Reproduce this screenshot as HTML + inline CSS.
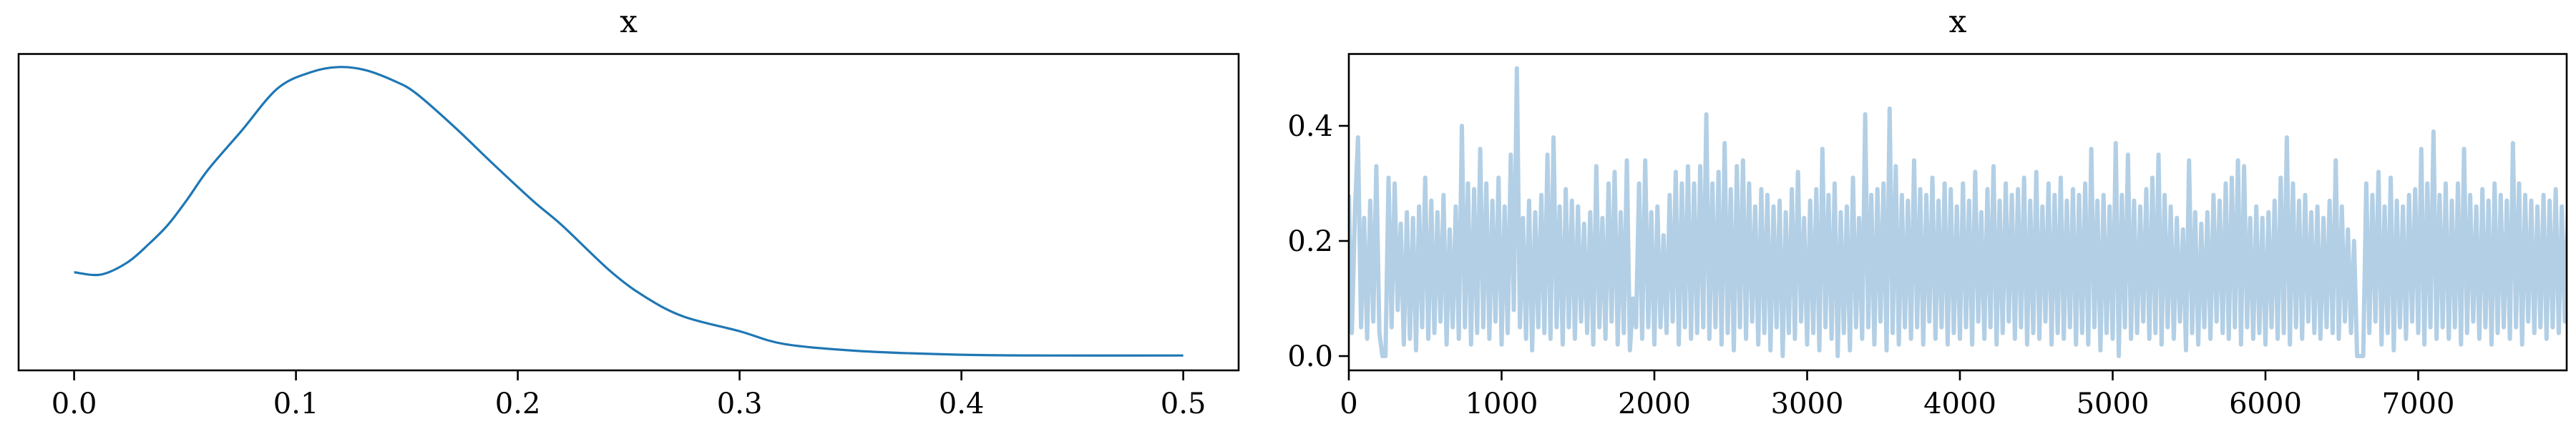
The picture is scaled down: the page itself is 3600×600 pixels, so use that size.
<!DOCTYPE html>
<html><head><meta charset="utf-8"><style>
html,body{margin:0;padding:0;background:#fff;}
svg{display:block;font-family:"DejaVu Serif","Liberation Serif",serif;}
</style></head><body>
<svg id="chart" width="3600" height="600" viewBox="0 0 3600 600" xmlns="http://www.w3.org/2000/svg">
<rect width="3600" height="600" fill="#fff"/>
<g id="kde"></g>
<g id="trace"></g>
</svg>
<script>
// KDE panel data
const kdeX = [0,0.012,0.024,0.034,0.0425,0.051,0.0605,0.0753,0.0917,0.1066,0.119,0.131,0.1443,0.154,0.171,0.189,0.207,0.22,0.242,0.258,0.275,0.3,0.32,0.353,0.398,0.439,0.5];
const kdeY = [1.45,1.41,1.62,1.95,2.28,2.71,3.23,3.89,4.63,4.91,5.0,4.95,4.76,4.55,3.98,3.32,2.68,2.26,1.46,1.01,0.68,0.43,0.21,0.09,0.025,0.01,0.01];
const kdeTicks = [0.0,0.1,0.2,0.3,0.4,0.5];
const kdeTickLabels = ["0.0","0.1","0.2","0.3","0.4","0.5"];
// Trace panel data (one value every 20 draws)
const traceStep = 20;
const traceVals = [
0.28,0.04,0.25,0.38,0.05,0.24,0.03,0.27,0.06,0.33,0.04,0.00,0.00,0.31,0.05,0.30,0.08,0.23,0.02,0.25,
0.03,0.24,0.01,0.26,0.05,0.31,0.03,0.27,0.04,0.25,0.06,0.28,0.02,0.22,0.05,0.26,0.03,0.40,0.05,0.30,
0.02,0.29,0.04,0.36,0.05,0.30,0.03,0.27,0.06,0.31,0.02,0.26,0.04,0.35,0.08,0.50,0.05,0.24,0.03,0.27,
0.01,0.25,0.05,0.28,0.04,0.35,0.03,0.38,0.05,0.26,0.02,0.29,0.05,0.27,0.03,0.26,0.06,0.23,0.04,0.25,
0.02,0.33,0.05,0.24,0.03,0.30,0.06,0.32,0.02,0.25,0.04,0.34,0.01,0.10,0.05,0.30,0.03,0.34,0.05,0.25,
0.02,0.26,0.05,0.21,0.04,0.28,0.06,0.32,0.02,0.30,0.05,0.33,0.03,0.30,0.04,0.33,0.05,0.42,0.03,0.30,
0.05,0.32,0.02,0.37,0.04,0.29,0.01,0.33,0.05,0.34,0.03,0.30,0.06,0.26,0.02,0.29,0.04,0.28,0.01,0.26,
0.05,0.27,0.00,0.25,0.04,0.29,0.03,0.32,0.06,0.24,0.02,0.27,0.04,0.29,0.01,0.36,0.05,0.28,0.03,0.30,
0.00,0.25,0.04,0.26,0.01,0.31,0.05,0.24,0.03,0.42,0.05,0.28,0.02,0.29,0.06,0.30,0.01,0.43,0.04,0.33,
0.02,0.28,0.05,0.27,0.03,0.34,0.05,0.29,0.02,0.28,0.06,0.31,0.03,0.27,0.05,0.30,0.02,0.29,0.04,0.26,
0.03,0.30,0.05,0.27,0.02,0.32,0.06,0.25,0.03,0.29,0.05,0.33,0.02,0.27,0.04,0.30,0.06,0.28,0.03,0.29,
0.05,0.31,0.02,0.27,0.04,0.32,0.03,0.26,0.06,0.30,0.02,0.28,0.04,0.31,0.03,0.27,0.05,0.29,0.02,0.28,
0.04,0.30,0.02,0.36,0.05,0.27,0.01,0.28,0.04,0.26,0.03,0.37,0.00,0.28,0.05,0.35,0.03,0.27,0.04,0.26,
0.06,0.29,0.03,0.31,0.04,0.35,0.02,0.28,0.05,0.26,0.03,0.24,0.06,0.22,0.01,0.34,0.04,0.25,0.02,0.23,
0.05,0.25,0.03,0.28,0.06,0.27,0.04,0.30,0.03,0.31,0.05,0.34,0.02,0.33,0.05,0.24,0.03,0.26,0.04,0.24,
0.02,0.25,0.05,0.27,0.03,0.31,0.04,0.38,0.02,0.30,0.05,0.27,0.03,0.28,0.06,0.25,0.04,0.26,0.03,0.24,
0.05,0.27,0.04,0.34,0.03,0.26,0.06,0.22,0.04,0.20,0.00,0.00,0.00,0.30,0.04,0.28,0.06,0.32,0.02,0.26,
0.04,0.31,0.01,0.27,0.05,0.26,0.03,0.28,0.06,0.29,0.04,0.36,0.02,0.30,0.05,0.39,0.03,0.28,0.05,0.30,
0.03,0.27,0.05,0.30,0.02,0.36,0.04,0.28,0.06,0.26,0.03,0.29,0.05,0.27,0.02,0.30,0.04,0.28,0.05,0.27,
0.03,0.37,0.05,0.30,0.02,0.28,0.06,0.27,0.04,0.26,0.05,0.28,0.03,0.27,0.05,0.29,0.04,0.26,0.06,0.25
];
const traceXTicks = [0,1000,2000,3000,4000,5000,6000,7000];
const traceXTickLabels = ["0","1000","2000","3000","4000","5000","6000","7000"];
const traceYTicks = [0.0,0.2,0.4];
const traceYTickLabels = ["0.0","0.2","0.4"];

const NS = "http://www.w3.org/2000/svg";
function mk(parent, tag, attrs){const e=document.createElementNS(NS,tag);for(const k in attrs)e.setAttribute(k,attrs[k]);parent.appendChild(e);return e;}

const axTop=75.5, axBottom=518;
const kx0=26, kx1=1731;
const kdeXs = v => 103.6 + v*3100;
const kdeYs = d => 498 - d*80.84;
const tx0=1885, tx1=3587;
const trXs = d => 1885 + d*0.2135;
const trYs = v => 498 - v*805;

function catmull(pts){
  let d="M"+pts[0][0].toFixed(2)+","+pts[0][1].toFixed(2);
  for(let i=0;i<pts.length-1;i++){
    const p0=pts[Math.max(0,i-1)],p1=pts[i],p2=pts[i+1],p3=pts[Math.min(pts.length-1,i+2)];
    const c1x=p1[0]+(p2[0]-p0[0])/6,c1y=p1[1]+(p2[1]-p0[1])/6;
    const c2x=p2[0]-(p3[0]-p1[0])/6,c2y=p2[1]-(p3[1]-p1[1])/6;
    d+=" C"+c1x.toFixed(2)+","+c1y.toFixed(2)+" "+c2x.toFixed(2)+","+c2y.toFixed(2)+" "+p2[0].toFixed(2)+","+p2[1].toFixed(2);
  }
  return d;
}

// ---- KDE panel
const kg=document.getElementById('kde');
const kpts=kdeX.map((x,i)=>[kdeXs(x),kdeYs(kdeY[i])]);
const kl=mk(kg,'path',{d:catmull(kpts),fill:'none',stroke:'#1f77b4','stroke-width':3.2,'stroke-linejoin':'round'});


const kf=mk(kg,'rect',{x:kx0,y:axTop,width:kx1-kx0,height:axBottom-axTop,fill:'none',stroke:'#000','stroke-width':2.6});


kdeTicks.forEach((t,i)=>{
  const x=kdeXs(t);
  const tk=mk(kg,'line',{x1:x,x2:x,y1:axBottom,y2:axBottom+14,stroke:'#000','stroke-width':2.6});
  
  
  const lbl=mk(kg,'text',{x:x,y:578,'text-anchor':'middle','font-size':40,fill:'#000'});
  lbl.textContent=kdeTickLabels[i];
  
  
});
const kt=mk(kg,'text',{x:(kx0+kx1)/2,y:45,'text-anchor':'middle','font-size':44,fill:'#000'});
kt.textContent='x';



// ---- Trace panel
const tg=document.getElementById('trace');
const cp=mk(tg,'clipPath',{id:'trclip'});
mk(cp,'rect',{x:tx0,y:axTop,width:tx1-tx0,height:axBottom-axTop});
let td="";
traceVals.forEach((v,i)=>{td+=(i?"L":"M")+trXs(i*traceStep).toFixed(2)+","+trYs(v).toFixed(2);});
const trLine=mk(tg,'path',{d:td,fill:'none',stroke:'#b2cfe5','stroke-width':6,'stroke-linejoin':'round','clip-path':'url(#trclip)'});


const tf=mk(tg,'rect',{x:tx0,y:axTop,width:tx1-tx0,height:axBottom-axTop,fill:'none',stroke:'#000','stroke-width':2.6});


traceXTicks.forEach((t,i)=>{
  const x=trXs(t);
  const tk=mk(tg,'line',{x1:x,x2:x,y1:axBottom,y2:axBottom+14,stroke:'#000','stroke-width':2.6});
  
  
  const lb=mk(tg,'text',{x:x,y:578,'text-anchor':'middle','font-size':40,fill:'#000'});
  lb.textContent=traceXTickLabels[i];
  
  
});
traceYTicks.forEach((t,i)=>{
  const y=trYs(t);
  const tk=mk(tg,'line',{x1:tx0-14,x2:tx0,y1:y,y2:y,stroke:'#000','stroke-width':2.6});
  
  
  const lb=mk(tg,'text',{x:tx0-22,y:y+14,'text-anchor':'end','font-size':40,fill:'#000'});
  lb.textContent=traceYTickLabels[i];
  
  
});
const tt=mk(tg,'text',{x:(tx0+tx1)/2,y:45,'text-anchor':'middle','font-size':44,fill:'#000'});
tt.textContent='x';


</script>
</body></html>
